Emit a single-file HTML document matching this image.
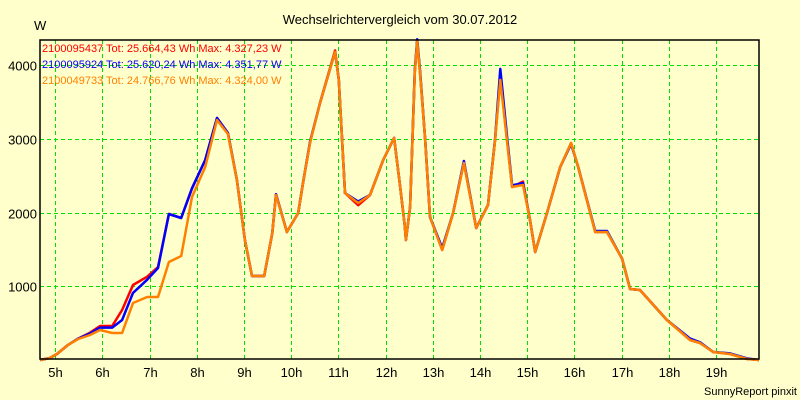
<!DOCTYPE html>
<html><head><meta charset="utf-8"><style>
body{margin:0;background:#ffffcc;}
svg{display:block;font-family:"Liberation Sans",sans-serif;}
</style></head><body>
<svg width="800" height="400" viewBox="0 0 800 400">
<rect x="0" y="0" width="800" height="400" fill="#ffffcc"/>
<text x="400" y="24" text-anchor="middle" font-size="13" fill="#000">Wechselrichtervergleich vom 30.07.2012</text>
<text x="34" y="30" font-size="13" fill="#000">W</text>
<g id="grid"></g>
<g id="ticks"></g>
<g id="series"></g>
<rect x="40" y="40" width="719" height="319" fill="none" stroke="#000" stroke-width="1.5"/>
<g font-size="11">
<text x="42" y="52" fill="#ff0000">2100095437 Tot: 25.664,43 Wh Max: 4.327,23 W</text>
<text x="42" y="68" fill="#0000ff">2100095924 Tot: 25.620,24 Wh Max: 4.351,77 W</text>
<text x="42" y="84" fill="#ff8000">2100049733 Tot: 24.766,76 Wh Max: 4.324,00 W</text>
</g>
<text x="797" y="395" text-anchor="end" font-size="11" fill="#000">SunnyReport pinxit</text>
</svg>
<script>
const times=[4.68,4.89,5.04,5.27,5.49,5.74,5.95,6.21,6.42,6.65,6.95,7.18,7.41,7.67,7.90,8.18,8.43,8.66,8.85,9.02,9.17,9.43,9.60,9.68,9.91,10.15,10.25,10.40,10.61,10.93,11.01,11.14,11.42,11.67,11.95,12.18,12.31,12.41,12.43,12.52,12.62,12.67,12.73,12.84,12.94,13.20,13.43,13.66,13.92,14.17,14.32,14.43,14.57,14.68,14.91,15.06,15.17,15.42,15.70,15.93,16.08,16.44,16.69,17.01,17.18,17.39,17.96,18.45,18.66,18.94,19.30,19.66,19.91];
const orangeValues=[0,27,81,204,285,339,407,366,366,774,855,855,1330,1411,2212,2619,3257,3067,2443,1628,1140,1140,1723,2239,1737,1995,2402,2945,3487,4180,3800,2266,2130,2239,2714,3013,2348,1805,1628,2076,3895,4324,3895,2985,1940,1493,1995,2673,1791,2103,2985,3800,2985,2348,2375,1900,1466,1995,2619,2945,2619,1737,1737,1375,963,950,543,271,231,109,81,14,0];
const blueValues=[0,27,81,204,290,360,440,440,543,910,1090,1248,1981,1927,2330,2714,3284,3080,2443,1628,1140,1140,1723,2250,1737,1995,2402,2958,3487,4180,3800,2266,2150,2239,2714,3013,2348,1805,1628,2076,3935,4352,3935,2985,1940,1520,1995,2700,1791,2103,3000,3950,3050,2370,2400,1900,1466,1995,2619,2930,2619,1750,1750,1375,963,950,543,290,240,109,90,20,0];
const redValues=[0,27,81,204,290,370,461,461,679,1018,1130,1262,1981,1927,2330,2714,3284,3080,2443,1628,1140,1140,1723,2250,1737,1995,2402,2950,3487,4200,3800,2266,2100,2239,2714,3013,2348,1805,1628,2076,3900,4327,3900,2985,1940,1493,1995,2673,1791,2103,2985,3850,3000,2348,2420,1900,1466,1995,2619,2945,2619,1737,1737,1375,963,950,543,271,231,109,81,14,0];
const yTicks=[1000,2000,3000,4000];
const xTickHours=[5,6,7,8,9,10,11,12,13,14,15,16,17,18,19];
const NS="http://www.w3.org/2000/svg";
const X0=40,X1=759,T0=4.68,T1=19.91,Y0=360,YMAX=4342;
function xs(t){return X0+(t-T0)/(T1-T0)*(X1-X0);}
function ys(v){return Y0-v/YMAX*(Y0-40);}
const grid=document.getElementById('grid'),ticks=document.getElementById('ticks'),series=document.getElementById('series');
function mk(tag,attrs,parent){const e=document.createElementNS(NS,tag);for(const k in attrs)e.setAttribute(k,attrs[k]);parent.appendChild(e);return e;}
yTicks.forEach(v=>{
 const y=Math.round(ys(v))+0.5;
 const l=mk('line',{x1:X0,x2:X1,y1:y,y2:y,stroke:'#00e000','stroke-dasharray':'4,3'},grid);
 
 
 const t=mk('text',{x:37,y:y+5,'text-anchor':'end','font-size':'13',fill:'#000'},ticks);
 t.textContent=String(v);
 
 
});
xTickHours.forEach(h=>{
 const x=Math.round(xs(h))+0.5;
 const l=mk('line',{x1:x,x2:x,y1:40,y2:359,stroke:'#00e000','stroke-dasharray':'4,3'},grid);
 
 
 const t=mk('text',{x:x,y:377,'text-anchor':'middle','font-size':'13',fill:'#000'},ticks);
 t.textContent=h+'h';
 
 
});
function draw(vals,color,w,name){
 const pts=times.map((t,i)=>xs(t).toFixed(1)+','+ys(vals[i]).toFixed(1)).join(' ');
 const p=mk('polyline',{points:pts,fill:'none',stroke:color,'stroke-width':w,'stroke-linejoin':'round'},series);
 
 
}
draw(redValues,'#ff0000',2.5,'series-line-red');
draw(blueValues,'#0000ff',2.5,'series-line-blue');
draw(orangeValues,'#ff8000',2.5,'series-line-orange');
</script>
</body></html>
